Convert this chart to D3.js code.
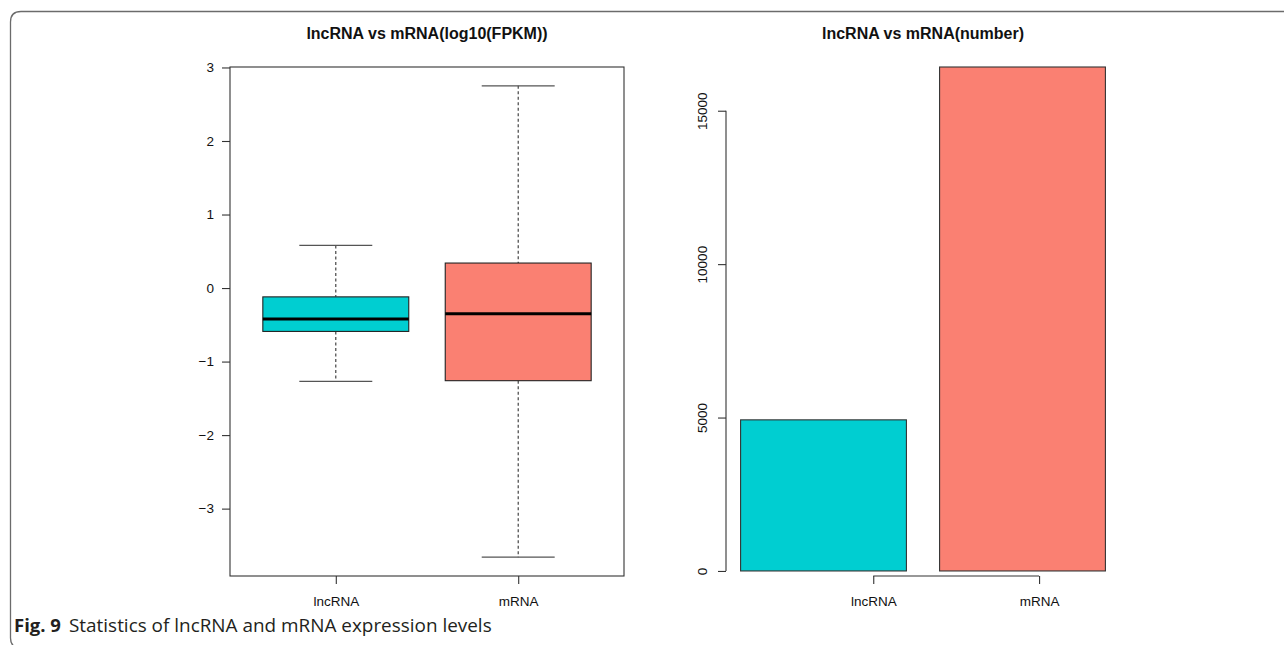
<!DOCTYPE html>
<html>
<head>
<meta charset="utf-8">
<script src="https://cdn.jsdelivr.net/npm/d3@7"></script>
<style>
html,body{margin:0;padding:0;background:#fff;}
svg{display:block;}
</style>
</head>
<body>
<svg id="chart" width="1284" height="645"></svg>
<script>
// ---------- data ----------
const categories = ["lncRNA", "mRNA"];
const colors = ["#00CED1", "#FA8072"];
const whiskerLow = [-1.27, -3.66];
const q1 = [-0.59, -1.26];
const medians = [-0.42, -0.35];
const q3 = [-0.12, 0.34];
const whiskerHigh = [0.58, 2.75];
const counts = [4925, 16425];
const boxTicks = [-3, -2, -1, 0, 1, 2, 3];
const countTicks = [0, 5000, 10000, 15000];
const titles = ["lncRNA vs mRNA(log10(FPKM))", "lncRNA vs mRNA(number)"];
const captionBold = "Fig. 9";
const captionText = "Statistics of lncRNA and mRNA expression levels";

// ---------- layout ----------
const svg = d3.select("#chart");
const rFont = "'Liberation Sans', Arial, Helvetica, sans-serif";
const plotTop = 67, plotBottom = 576;
const L = {x0: 230, x1: 624};
const R = {x0: 726, x1: 1120};
const lineCol = "#333";

// frame
svg.append("path")
  .attr("d", "M1300,11.5 H21 Q10.5,11.5 10.5,22 V638 Q10.5,648 21,648 H1300")
  .attr("fill", "none").attr("stroke", "#6b6b6b").attr("stroke-width", 1.3);

// ---------- left: boxplot ----------
const allVals = whiskerLow.concat(whiskerHigh);
const lo = d3.min(allVals), hi = d3.max(allVals), ext = (hi - lo) * 0.04;
const yL = d3.scaleLinear().domain([lo - ext, hi + ext]).range([plotBottom, plotTop]);
const xL = d3.scaleLinear().domain([0.42, 2.58]).range([L.x0, L.x1]);

const gL = svg.append("g");
categories.forEach((c, i) => {
  const pos = i + 1, cx = xL(pos);
  const bw = xL(pos + 0.4) - xL(pos - 0.4);
  const cw = xL(pos + 0.2) - xL(pos - 0.2);
  [[whiskerHigh[i], q3[i]], [q1[i], whiskerLow[i]]].forEach(([a, b]) => {
    gL.append("line").attr("x1", cx).attr("x2", cx).attr("y1", yL(a)).attr("y2", yL(b))
      .attr("stroke", "#333").attr("stroke-width", 1.1).attr("stroke-dasharray", "3,2.5");
  });
  [whiskerHigh[i], whiskerLow[i]].forEach(v => {
    gL.append("line").attr("x1", cx - cw / 2).attr("x2", cx + cw / 2).attr("y1", yL(v)).attr("y2", yL(v))
      .attr("stroke", "#555").attr("stroke-width", 1.2);
  });
  gL.append("rect").attr("x", cx - bw / 2).attr("width", bw)
    .attr("y", yL(q3[i])).attr("height", yL(q1[i]) - yL(q3[i]))
    .attr("fill", colors[i]).attr("stroke", "#222").attr("stroke-width", 1.1);
  gL.append("line").attr("x1", cx - bw / 2).attr("x2", cx + bw / 2)
    .attr("y1", yL(medians[i])).attr("y2", yL(medians[i]))
    .attr("stroke", "#000").attr("stroke-width", 3);
});
gL.append("rect").attr("x", L.x0).attr("y", plotTop).attr("width", L.x1 - L.x0).attr("height", plotBottom - plotTop)
  .attr("fill", "none").attr("stroke", lineCol).attr("stroke-width", 1.1);

const axLY = d3.axisLeft(yL).tickValues(boxTicks).tickSize(8).tickPadding(8).tickFormat(d => d < 0 ? "\u2212" + Math.abs(d) : d);
const gAxLY = svg.append("g").attr("transform", `translate(${L.x0},0)`).call(axLY);
const axLX = d3.axisBottom(xL).tickValues([1, 2]).tickSize(8).tickPadding(12).tickFormat((d, i) => categories[i]);
const gAxLX = svg.append("g").attr("transform", `translate(0,${plotBottom})`).call(axLX);

// ---------- right: barplot ----------
const maxC = d3.max(counts);
const yR = d3.scaleLinear().domain([-0.01 * maxC, maxC]).range([plotBottom, plotTop]);
const xR = d3.scaleLinear().domain([0.112, 2.488]).range([R.x0, R.x1]);
const gR = svg.append("g");
counts.forEach((v, i) => {
  const left = 0.2 + i * 1.2;
  gR.append("rect").attr("x", xR(left)).attr("width", xR(left + 1) - xR(left))
    .attr("y", yR(v)).attr("height", yR(0) - yR(v))
    .attr("fill", colors[i]).attr("stroke", "#333").attr("stroke-width", 1.1);
});
const axRY = d3.axisLeft(yR).tickValues(countTicks).tickSize(8).tickPadding(0).tickFormat(d3.format("d"));
const gAxRY = svg.append("g").attr("transform", `translate(${R.x0},0)`).call(axRY);
gAxRY.selectAll(".tick text")
  .attr("x", 0).attr("dy", null)
  .attr("transform", "translate(-24,0) rotate(-90)")
  .attr("text-anchor", "middle").attr("dominant-baseline", "central");
gAxRY.select(".domain").remove();
gAxRY.append("line").attr("x1", 0).attr("x2", 0)
  .attr("y1", yR(countTicks[0])).attr("y2", yR(countTicks[countTicks.length - 1]))
  .attr("stroke", lineCol).attr("stroke-width", 1.1);

const axRX = d3.axisBottom(xR).tickValues([1, 2]).tickSize(8).tickPadding(12).tickFormat((d, i) => categories[i]);
const gAxRX = svg.append("g").attr("transform", `translate(0,${plotBottom})`).call(axRX);
gAxRX.select(".domain").remove();
gAxRX.append("line").attr("x1", xR(1)).attr("x2", xR(2)).attr("y1", 0).attr("y2", 0)
  .attr("stroke", lineCol).attr("stroke-width", 1.1);

[gAxLY, gAxLX].forEach(g => g.select(".domain").remove());
[gAxLY, gAxLX, gAxRY, gAxRX].forEach(g => {
  g.selectAll(".tick line").attr("stroke", lineCol).attr("stroke-width", 1.1);
  g.selectAll("text").attr("font-family", rFont).attr("font-size", 13.5).attr("fill", "#111");
});

// titles
[[titles[0], (L.x0 + L.x1) / 2], [titles[1], (R.x0 + R.x1) / 2]].forEach(([t, x]) => {
  svg.append("text").attr("x", x).attr("y", 39).attr("text-anchor", "middle")
    .attr("font-family", rFont).attr("font-weight", "bold").attr("font-size", 16).attr("fill", "#111").text(t);
});

// caption
const capFont = "'Open Sans', 'Noto Sans', sans-serif";
const capB = svg.append("text").attr("x", 14).attr("y", 632)
  .attr("font-family", capFont).attr("font-weight", "bold").attr("font-size", 17).attr("fill", "#231f20")
  .text(captionBold);
capB.attr("font-size", 17 * 47 / capB.node().getComputedTextLength());
const capT = svg.append("text").attr("x", 69).attr("y", 632)
  .attr("font-family", capFont).attr("font-size", 17).attr("fill", "#231f20")
  .text(captionText);
capT.attr("font-size", 17 * 423 / capT.node().getComputedTextLength());
</script>
</body>
</html>
